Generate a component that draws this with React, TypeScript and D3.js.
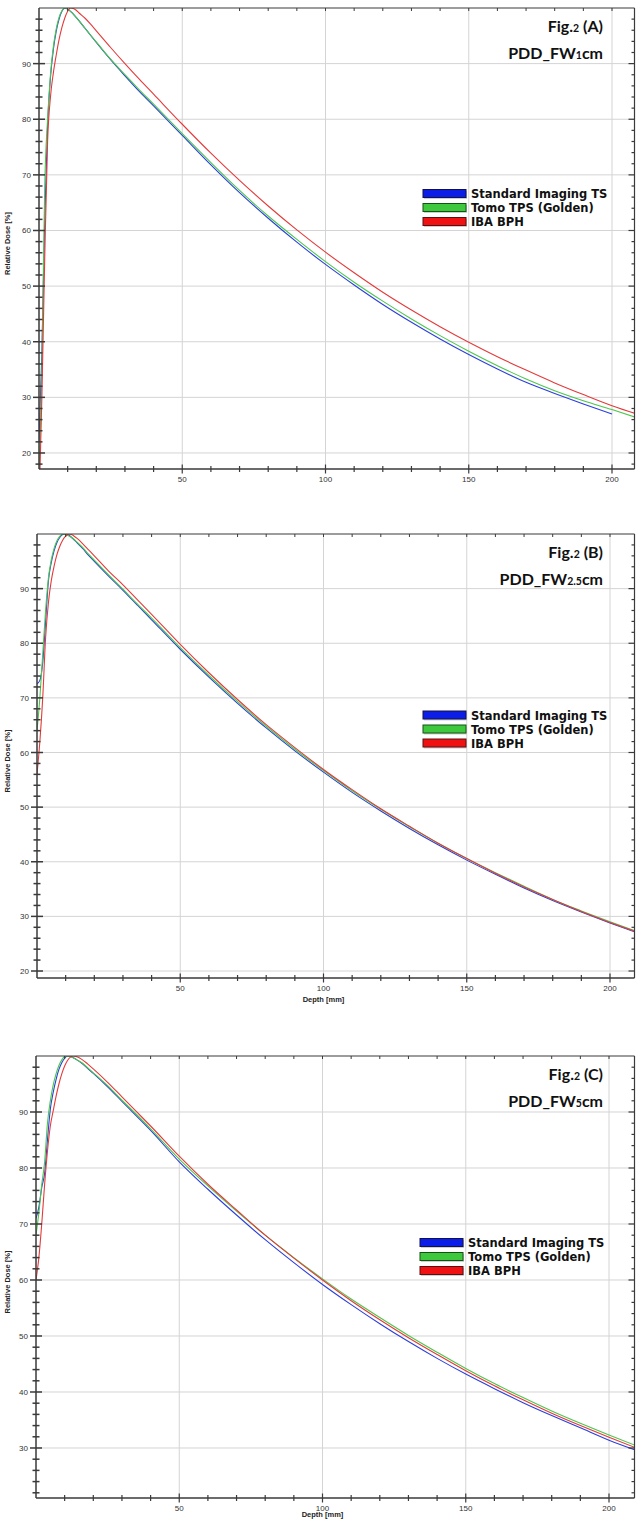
import React from "react";
import * as d3 from "d3";

// depth in mm, shared by every curve
const depth = [0, 1, 2, 3, 4, 5, 6, 7, 8, 9, 10, 11, 12, 13, 14, 16, 18, 20, 25, 30, 35, 40, 50, 60, 70, 80, 90, 100, 110, 120, 130, 140, 150, 160, 170, 180, 190, 200, 210];

// Fig.2 (A) PDD_FW1cm
const blueA = [22, 38, 62, 79, 87.5, 92.5, 95.8, 98, 99.4, 100, 99.8, 99.4, 98.9, 98.3, 97.7, 96.4, 95.1, 93.8, 90.7, 87.8, 85.0, 82.4, 77.1, 71.8, 66.8, 62.2, 57.9, 53.9, 50.2, 46.7, 43.5, 40.5, 37.7, 35.1, 32.7, 30.7, 28.8, 27.0, null];
const greenA = [15, 35, 68, 80, 88, 93, 96.2, 98.3, 99.5, 100, 99.8, 99.4, 98.9, 98.3, 97.7, 96.4, 95.1, 93.9, 90.8, 88.0, 85.3, 82.7, 77.4, 72.2, 67.2, 62.6, 58.4, 54.4, 50.7, 47.3, 44.1, 41.1, 38.3, 35.7, 33.3, 31.2, 29.4, 27.8, 26.1];
const redA = [10, 30, 55, 76, 84, 88.3, 91.5, 94.3, 96.5, 98.2, 99.4, 100, 99.9, 99.6, 99.1, 98.2, 97.1, 95.9, 92.9, 90.0, 87.2, 84.5, 79.1, 73.9, 69.0, 64.4, 60.1, 56.1, 52.4, 48.9, 45.7, 42.7, 39.9, 37.3, 34.9, 32.6, 30.5, 28.5, 26.8];

// Fig.2 (B) PDD_FW2.5cm
const blueB = [72.6, 73.2, 76.5, 84, 91.5, 94.8, 97, 98.5, 99.4, 99.9, 100, 99.8, 99.4, 98.9, 98.4, 97.3, 96.1, 95.0, 92.3, 89.7, 87.0, 84.3, 78.9, 73.8, 69.0, 64.5, 60.3, 56.4, 52.7, 49.3, 46.1, 43.1, 40.3, 37.7, 35.2, 32.9, 30.8, 28.8, 26.9];
const greenB = [64, 70, 78, 86, 92, 95.3, 97.4, 98.8, 99.6, 100, 99.9, 99.7, 99.4, 99.0, 98.5, 97.5, 96.3, 95.2, 92.5, 89.9, 87.2, 84.6, 79.2, 74.1, 69.3, 64.8, 60.6, 56.7, 53.0, 49.6, 46.4, 43.4, 40.6, 38.0, 35.5, 33.1, 31.0, 29.0, 27.1];
const redB = [56, 62, 70, 81, 87.5, 91.5, 94.2, 96.3, 97.8, 98.9, 99.6, 100, 99.9, 99.6, 99.2, 98.2, 97.1, 96.0, 93.2, 90.7, 88.0, 85.3, 79.8, 74.6, 69.7, 65.1, 60.9, 56.9, 53.2, 49.7, 46.5, 43.4, 40.6, 37.9, 35.4, 33.1, 30.9, 28.9, 27.0];

// Fig.2 (C) PDD_FW5cm
const blueC = [71, 73, 76.5, 79, 85, 90.5, 93.5, 95.8, 97.6, 98.8, 99.6, 100, 99.9, 99.7, 99.4, 98.7, 97.8, 96.9, 94.5, 91.9, 89.3, 86.7, 81.1, 76.2, 71.6, 67.2, 63.1, 59.2, 55.6, 52.2, 49.0, 46.0, 43.2, 40.6, 38.1, 35.8, 33.6, 31.4, 29.5];
const greenC = [68, 72, 77, 81, 88, 92, 94.8, 96.8, 98.3, 99.3, 99.9, 100, 99.9, 99.7, 99.4, 98.8, 97.9, 97.0, 94.7, 92.1, 89.6, 87.0, 81.6, 76.8, 72.3, 68.0, 64.0, 60.2, 56.6, 53.3, 50.1, 47.1, 44.2, 41.5, 39.0, 36.6, 34.4, 32.3, 30.3];
const redC = [60, 64, 70, 77, 83, 87.5, 90.2, 92.8, 95, 96.8, 98.2, 99.2, 99.8, 100, 99.9, 99.4, 98.6, 97.7, 95.3, 92.7, 90.1, 87.5, 82.1, 77.1, 72.5, 68.0, 63.9, 60.0, 56.3, 52.9, 49.7, 46.7, 43.8, 41.1, 38.6, 36.2, 34.0, 31.9, 29.9];

const seriesNames = ["Standard Imaging TS", "Tomo TPS (Golden)", "IBA BPH"];
const figLetters = ["A", "B", "C"];
const fieldWidths = ["1", "2.5", "5"];
const xMajorTicks = [50, 100, 150, 200];

const lineColors = ["#2b3fdc", "#4cc64c", "#e43a3a"];
const swatchFill = ["#0b1de6", "#3ec83e", "#f01212"];
const swatchStroke = ["#12124a", "#145214", "#5a1010"];

// pixel layout of the three panels
const layout = [
  { top: 8, bottom: 469, left: 39, yMin: 17.12, xLabel: 0, legendX: 423, legendY: 194 },
  { top: 534, bottom: 978, left: 37, yMin: 18.72, xLabel: 24, legendX: 423, legendY: 715.5 },
  { top: 1056, bottom: 1498, left: 36, yMin: 21.07, xLabel: 19, legendX: 420, legendY: 1243 },
];
const panelValues = [
  [blueA, greenA, redA],
  [blueB, greenB, redB],
  [blueC, greenC, redC],
];

const RIGHT = 634.5;
const PX_PER_MM = 2.865;
const axisColor = "#3a3a3a";
const gridColor = "#d4d4d4";
const tickFont = "'Liberation Sans Narrow', 'Liberation Sans', Arial, sans-serif";
const legendFont = "'DejaVu Sans', sans-serif";

const Panel = ({ idx }) => {
  const L = layout[idx];
  const x = d3.scaleLinear().domain([0, (RIGHT - L.left) / PX_PER_MM]).range([L.left, RIGHT]);
  const y = d3.scaleLinear().domain([L.yMin, 100]).range([L.bottom, L.top]);
  const yMinor = d3.range(Math.ceil(L.yMin / 2) * 2, 100, 2);
  const yMajor = d3.range(Math.ceil(L.yMin / 10) * 10, 100, 10);
  const xMinor = d3.range(10, x.domain()[1], 10);
  const line = d3
    .line()
    .defined((d) => d[1] != null)
    .x((d) => x(d[0]))
    .y((d) => y(d[1]))
    .curve(d3.curveMonotoneX);
  const clipId = "clip" + idx;
  const midY = (L.top + L.bottom) / 2;

  return (
    <g>
      <defs>
        <clipPath id={clipId}>
          <rect x={L.left} y={L.top} width={RIGHT - L.left} height={L.bottom - L.top} />
        </clipPath>
      </defs>
      {/* grid */}
      {yMajor.map((v) => (
        <line key={"gy" + v} x1={L.left} x2={RIGHT} y1={y(v)} y2={y(v)} stroke={gridColor} strokeWidth={1} />
      ))}
      {xMajorTicks.map((v) => (
        <line key={"gx" + v} x1={x(v)} x2={x(v)} y1={L.top} y2={L.bottom} stroke={gridColor} strokeWidth={1} />
      ))}

      {/* curves */}
      <g clipPath={`url(#${clipId})`}>
        {panelValues[idx].map((vals, i) => (
          <path
            key={i}
            d={line(depth.map((d, j) => [d, vals[j]]))}
            fill="none"
            stroke={lineColors[i]}
            strokeWidth={1.1}
          />
        ))}
      </g>

      {/* frame */}
      <line x1={L.left} x2={RIGHT} y1={L.top} y2={L.top} stroke={axisColor} strokeWidth={1.2} />
      <line x1={L.left} x2={RIGHT} y1={L.bottom} y2={L.bottom} stroke={axisColor} strokeWidth={1.5} />
      <line x1={L.left} x2={L.left} y1={L.top} y2={L.bottom} stroke={axisColor} strokeWidth={1.5} />
      <line x1={RIGHT} x2={RIGHT} y1={L.top} y2={L.bottom} stroke={axisColor} strokeWidth={1.2} />

      {/* y ticks, left and right */}
      {yMinor.map((v) => {
        const major = v % 10 === 0;
        return (
          <g key={"ty" + v}>
            <line x1={L.left - (major ? 6 : 3.5)} x2={L.left + (major ? 6 : 3.5)} y1={y(v)} y2={y(v)} stroke={axisColor} strokeWidth={1.5} />
            <line x1={RIGHT - (major ? 6 : 3)} x2={RIGHT} y1={y(v)} y2={y(v)} stroke={axisColor} strokeWidth={1.2} />
          </g>
        );
      })}
      {yMajor.map((v) => (
        <text key={"ly" + v} x={L.left - 8} y={y(v) + 3} textAnchor="end" fontSize={8} fontFamily={tickFont} fill="#333">
          {v}
        </text>
      ))}

      {/* x ticks, bottom and top */}
      {xMinor.map((v) => {
        const major = v % 50 === 0;
        return (
          <g key={"tx" + v}>
            <line x1={x(v)} x2={x(v)} y1={L.bottom - (major ? 4.5 : 3)} y2={L.bottom + (major ? 4.5 : 3)} stroke={axisColor} strokeWidth={1.2} />
            <line x1={x(v)} x2={x(v)} y1={L.top} y2={L.top + 3} stroke={axisColor} strokeWidth={1} />
          </g>
        );
      })}
      {xMajorTicks.map((v) => (
        <text key={"lx" + v} x={x(v)} y={L.bottom + 13} textAnchor="middle" fontSize={8} fontFamily={tickFont} fill="#333">
          {v}
        </text>
      ))}

      {/* axis titles */}
      <text
        transform={`translate(10, ${midY + 5}) rotate(-90)`}
        textAnchor="middle"
        fontSize={7.5}
        fontWeight="bold"
        fontFamily="'Liberation Sans', Arial, sans-serif"
        fill="#222"
      >
        Relative Dose [%]
      </text>
      {L.xLabel > 0 && (
        <text x={x(100)} y={L.bottom + L.xLabel} textAnchor="middle" fontSize={7.5} fontWeight="bold" fontFamily="'Liberation Sans', Arial, sans-serif" fill="#222">
          Depth [mm]
        </text>
      )}

      {/* figure title */}
      <text x={603} y={L.top + 24} textAnchor="end" fontSize={16} fontWeight="bold" fontFamily="Lato, 'Open Sans', sans-serif" fill="#111">
        Fig.<tspan fontSize={10.5}>2</tspan> (<tspan>{figLetters[idx]}</tspan>)
      </text>
      <text x={603} y={L.top + 51} textAnchor="end" fontSize={16} fontWeight="bold" fontFamily="Lato, 'Open Sans', sans-serif" fill="#111">
        PDD_FW<tspan fontSize={10.5}>{fieldWidths[idx]}</tspan>cm
      </text>

      {/* legend */}
      {seriesNames.map((name, i) => {
        const cy = L.legendY + i * 14;
        return (
          <g key={name}>
            <rect x={L.legendX + 1} y={cy - 3} width={43} height={8} fill="#cfcfcf" />
            <rect x={L.legendX} y={cy - 4.5} width={43} height={8} fill={swatchFill[i]} stroke={swatchStroke[i]} strokeWidth={1} />
            <text x={L.legendX + 48} y={cy + 4.3} fontSize={11.5} fontWeight="bold" fontFamily={legendFont} fill="#111">
              {name}
            </text>
          </g>
        );
      })}
    </g>
  );
};

const App = () => {
  return (
    <svg
      width={636}
      height={1529}
      style={{ position: "absolute", left: 0, top: 0, background: "#fff", display: "block" }}
    >
      <rect width={636} height={1529} fill="#fff" />
      {layout.map((_, i) => (
        <Panel key={i} idx={i} />
      ))}
    </svg>
  );
};

export default App;
